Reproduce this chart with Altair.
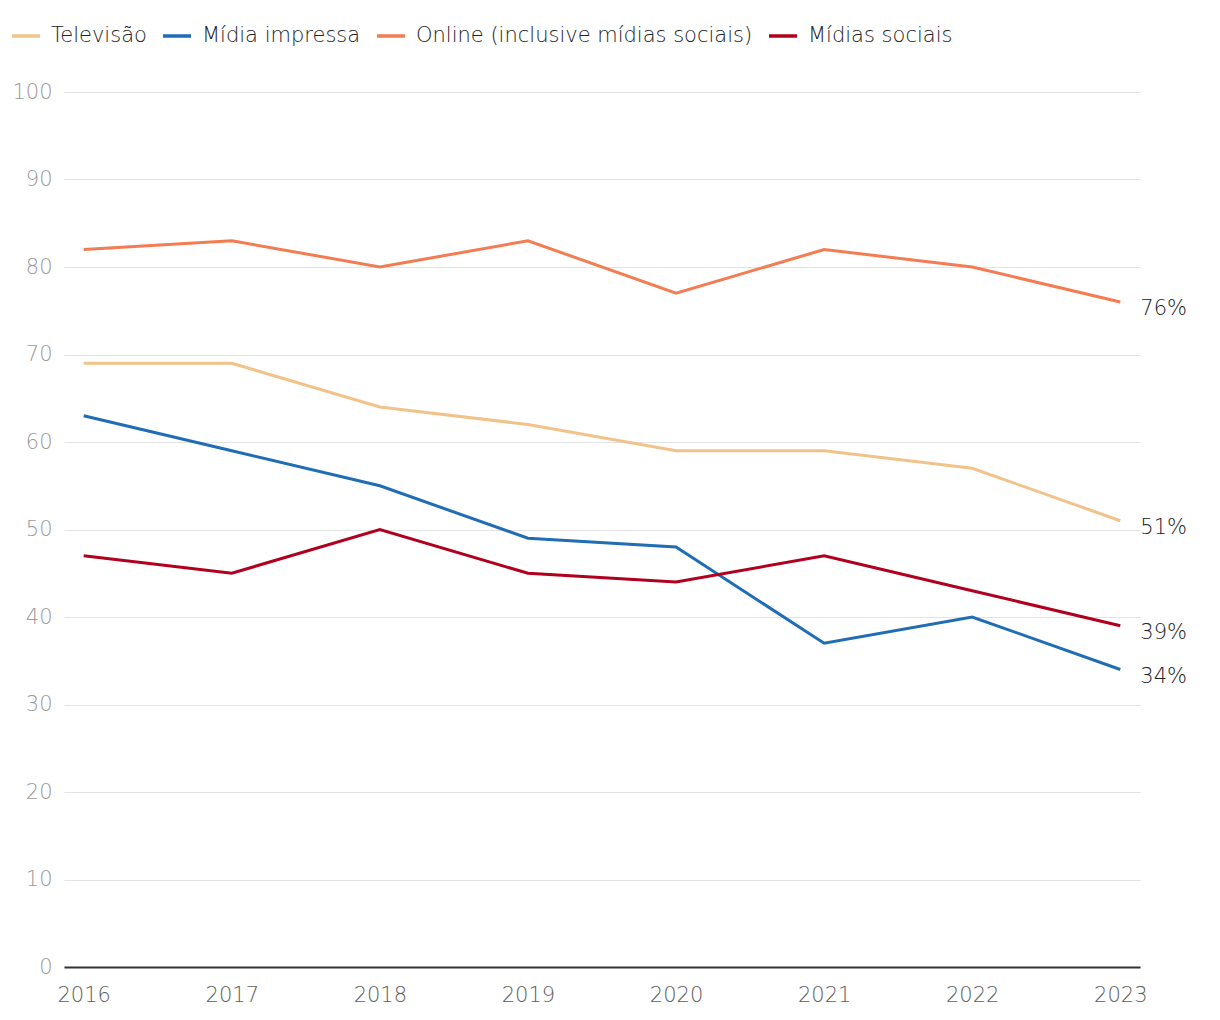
import altair as alt
import pandas as pd

years = [2016, 2017, 2018, 2019, 2020, 2021, 2022, 2023]
series_names = ["Televisão", "Mídia impressa", "Online (inclusive mídias sociais)", "Mídias sociais"]
televisao = [69, 69, 64, 62, 59, 59, 57, 51]
midia_impressa = [63, 59, 55, 49, 48, 37, 40, 34]
online = [82, 83, 80, 83, 77, 82, 80, 76]
midias_sociais = [47, 45, 50, 45, 44, 47, 43, 39]
colors = ["#f1c38b", "#1f6db5", "#f47c52", "#b0001e"]
y_ticks = [0, 10, 20, 30, 40, 50, 60, 70, 80, 90, 100]

rows = []
for name, vals in zip(series_names, [televisao, midia_impressa, online, midias_sociais]):
    for y, v in zip(years, vals):
        rows.append({"year": str(y), "serie": name, "value": v, "label": f"{v}%"})
df = pd.DataFrame(rows)

FONT = "DejaVu Sans"
FW = 200

x = alt.X("year:O", title=None,
          scale=alt.Scale(type="point", padding=0.133),
          axis=alt.Axis(labelAngle=0, labelFontSize=21, labelColor="#5e5e5e", labelFont=FONT,
                        labelFontWeight=FW,
                        ticks=False, domainColor="#333333", domainWidth=2, labelPadding=17,
                        grid=False))
y = alt.Y("value:Q", title=None,
          scale=alt.Scale(domain=[0, 100], nice=False),
          axis=alt.Axis(values=y_ticks, labelFontSize=21, labelColor="#9a9a9a", labelFont=FONT,
                        labelFontWeight=FW,
                        ticks=False, domain=False, gridColor="#e3e3e3", gridWidth=1.2,
                        labelPadding=12))
color = alt.Color("serie:N", title=None,
                  scale=alt.Scale(domain=series_names, range=colors),
                  legend=alt.Legend(orient="none", legendX=-54, legendY=-72, direction="horizontal",
                                    columns=4, symbolType="stroke", symbolStrokeWidth=3.5,
                                    symbolSize=784, labelFontSize=21, labelFont=FONT,
                                    labelFontWeight=FW,
                                    labelColor="#222222", labelOffset=9, columnPadding=9,
                                    gridAlign="none", labelLimit=500))

lines = alt.Chart(df).mark_line(strokeWidth=3).encode(x=x, y=y, color=color)

labels = alt.Chart(df).transform_filter(alt.datum.year == "2023").mark_text(
    align="left", baseline="middle", dx=20, dy=7, fontSize=21, font=FONT, fontWeight=FW,
    color="#222222"
).encode(x=x, y=y, text="label:N")

chart = alt.layer(lines, labels).properties(
    width=1076, height=875,
    padding={"left": 56, "top": 84, "right": 70, "bottom": 40},
    autosize=alt.AutoSizeParams(type="none"),
    background="white",
).configure_view(stroke=None)

chart.save("out.html", embed_options={"renderer": "svg", "actions": False})
